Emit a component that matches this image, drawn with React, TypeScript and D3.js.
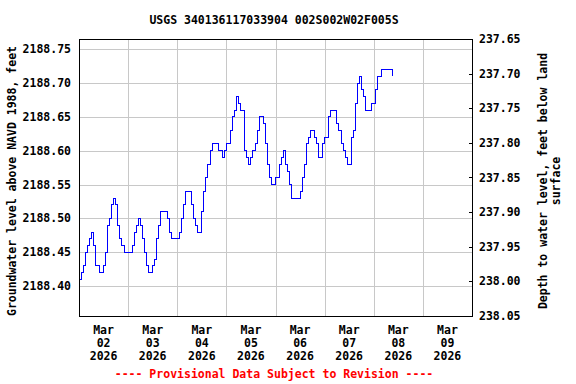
import React, { useEffect, useRef } from "react";
import * as d3 from "d3";

// hourly readings starting 2026-03-02 00:00, feet above NAVD 1988
const startTime = Date.UTC(2026, 2, 2, 0, 0);
const waterLevel = [
  2188.41, 2188.42, 2188.43, 2188.45, 2188.46, 2188.47, 2188.48, 2188.46, 2188.43, 2188.43,
  2188.42, 2188.42, 2188.43, 2188.45, 2188.49, 2188.5, 2188.52, 2188.53, 2188.52, 2188.49,
  2188.47, 2188.46, 2188.45, 2188.45, 2188.45, 2188.45, 2188.46, 2188.48, 2188.49, 2188.5,
  2188.49, 2188.47, 2188.45, 2188.43, 2188.42, 2188.42, 2188.43, 2188.44, 2188.47, 2188.49,
  2188.51, 2188.51, 2188.51, 2188.5, 2188.48, 2188.47, 2188.47, 2188.47, 2188.47, 2188.48,
  2188.5, 2188.52, 2188.54, 2188.54, 2188.54, 2188.52, 2188.5, 2188.49, 2188.48, 2188.48,
  2188.51, 2188.54, 2188.56, 2188.58, 2188.6, 2188.61, 2188.61, 2188.61, 2188.6, 2188.6,
  2188.59, 2188.6, 2188.61, 2188.61, 2188.63, 2188.65, 2188.66, 2188.68, 2188.67, 2188.66,
  2188.66, 2188.6, 2188.59, 2188.58, 2188.59, 2188.6, 2188.61, 2188.63, 2188.65, 2188.65,
  2188.64, 2188.61, 2188.58, 2188.56, 2188.55, 2188.55, 2188.56, 2188.56, 2188.58, 2188.59,
  2188.6, 2188.58, 2188.57, 2188.55, 2188.53, 2188.53, 2188.53, 2188.53, 2188.54, 2188.56,
  2188.58, 2188.61, 2188.62, 2188.63, 2188.63, 2188.62, 2188.61, 2188.59, 2188.59, 2188.61,
  2188.62, 2188.62, 2188.65, 2188.66, 2188.66, 2188.66, 2188.64, 2188.63, 2188.61, 2188.6,
  2188.59, 2188.58, 2188.58, 2188.62, 2188.63, 2188.67, 2188.7, 2188.71, 2188.69, 2188.68,
  2188.66, 2188.66, 2188.66, 2188.67, 2188.67, 2188.69, 2188.71, 2188.71, 2188.72, 2188.72,
  2188.72, 2188.72, 2188.72, 2188.71,
];

const leftTicks = [2188.4, 2188.45, 2188.5, 2188.55, 2188.6, 2188.65, 2188.7, 2188.75];
const rightTicks = [237.65, 237.7, 237.75, 237.8, 237.85, 237.9, 237.95, 238.0, 238.05];
const dayLabels = ["02", "03", "04", "05", "06", "07", "08", "09"];

const FONT = "'DejaVu Sans Mono', monospace";

const App = () => {
  const ref = useRef<SVGSVGElement>(null);

  useEffect(() => {
    const svg = d3.select(ref.current);
    svg.selectAll("*").remove();

    const left = 79, right = 472, top = 39, bottom = 316;

    const x = d3
      .scaleUtc()
      .domain([new Date(Date.UTC(2026, 2, 2)), new Date(Date.UTC(2026, 2, 10))])
      .range([left, right]);
    const y = d3.scaleLinear().domain([2188.356, 2188.765]).range([bottom, top]);
    const y2 = d3.scaleLinear().domain([237.65, 238.05]).range([top, bottom]);

    const data = waterLevel.map((v, i) => ({
      t: new Date(startTime + i * 3600 * 1000),
      v,
    }));

    // grid
    const grid = svg.append("g").attr("stroke", "#c8c8c8").attr("stroke-width", 1);
    grid
      .selectAll("line.h")
      .data(leftTicks)
      .enter()
      .append("line")
      .attr("x1", left)
      .attr("x2", right)
      .attr("y1", (d) => Math.round(y(d)) + 0.5)
      .attr("y2", (d) => Math.round(y(d)) + 0.5);
    const days = d3.utcDay.range(new Date(Date.UTC(2026, 2, 3)), new Date(Date.UTC(2026, 2, 10)));
    grid
      .selectAll("line.v")
      .data(days)
      .enter()
      .append("line")
      .attr("x1", (d) => Math.round(x(d)) + 0.5)
      .attr("x2", (d) => Math.round(x(d)) + 0.5)
      .attr("y1", top)
      .attr("y2", bottom);

    // data line
    const line = d3
      .line<{ t: Date; v: number }>()
      .x((d) => x(d.t))
      .y((d) => y(d.v))
      .curve(d3.curveStepAfter);
    svg
      .append("path")
      .datum(data)
      .attr("fill", "none")
      .attr("stroke", "#0000ff")
      .attr("stroke-width", 1)
      .attr("shape-rendering", "crispEdges")
      .attr("d", line);

    // frame
    svg
      .append("rect")
      .attr("x", left + 0.5)
      .attr("y", top + 0.5)
      .attr("width", right - left)
      .attr("height", bottom - top)
      .attr("fill", "none")
      .attr("stroke", "black")
      .attr("stroke-width", 1);

    const txt = svg
      .append("g")
      .attr("font-family", FONT)
      .attr("font-size", 11.5)
      .attr("font-weight", "bold")
      .attr("fill", "black");

    // left labels
    txt
      .selectAll("text.l")
      .data(leftTicks)
      .enter()
      .append("text")
      .attr("x", 71)
      .attr("y", (d) => y(d) + 4)
      .attr("text-anchor", "end")
      .text((d) => d.toFixed(2));

    // right ticks + labels
    svg
      .append("g")
      .selectAll("line")
      .data(rightTicks)
      .enter()
      .append("line")
      .attr("x1", right - 3)
      .attr("x2", right)
      .attr("y1", (d) => Math.round(y2(d)) + 0.5)
      .attr("y2", (d) => Math.round(y2(d)) + 0.5)
      .attr("stroke", "black");
    txt
      .selectAll("text.r")
      .data(rightTicks)
      .enter()
      .append("text")
      .attr("x", 479)
      .attr("y", (d) => y2(d) + 4)
      .text((d) => d.toFixed(2));

    // date labels
    const dl = txt
      .selectAll("text.d")
      .data(dayLabels)
      .enter()
      .append("text")
      .attr("text-anchor", "middle");
    const cx = (i: number) => x(new Date(Date.UTC(2026, 2, 2 + i, 12)));
    dl.append("tspan").attr("x", (d, i) => cx(i)).attr("y", 334).text("Mar");
    dl.append("tspan").attr("x", (d, i) => cx(i)).attr("y", 347).text((d) => d);
    dl.append("tspan").attr("x", (d, i) => cx(i)).attr("y", 360).text("2026");

    // title
    txt
      .append("text")
      .attr("x", 274)
      .attr("y", 24)
      .attr("text-anchor", "middle")
      .text("USGS 340136117033904 002S002W02F005S");

    // axis titles
    txt
      .append("text")
      .attr("transform", "translate(16,181) rotate(-90)")
      .attr("text-anchor", "middle")
      .text("Groundwater level above NAVD 1988, feet");
    txt
      .append("text")
      .attr("transform", "translate(547,181) rotate(-90)")
      .attr("text-anchor", "middle")
      .text("Depth to water level, feet below land");
    txt
      .append("text")
      .attr("transform", "translate(560,181) rotate(-90)")
      .attr("text-anchor", "middle")
      .text("surface");

    // footer
    txt
      .append("text")
      .attr("x", 274)
      .attr("y", 378)
      .attr("text-anchor", "middle")
      .attr("fill", "red")
      .text("---- Provisional Data Subject to Revision ----");
  });

  return (
    <div id="chartArea">
      <svg
        ref={ref}
        width={576}
        height={384}
        style={{ position: "absolute", left: 0, top: 0, background: "white" }}
      ></svg>
    </div>
  );
};

export default App;
